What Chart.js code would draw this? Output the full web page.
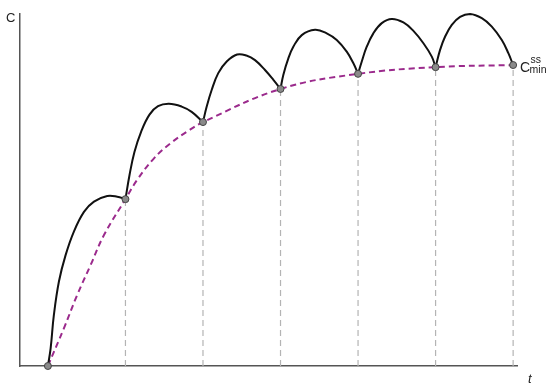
<!DOCTYPE html>
<html>
<head>
<meta charset="utf-8">
<script src="https://cdn.jsdelivr.net/npm/chart.js@4"></script>
<style>
  html, body { margin: 0; padding: 0; background: #fff; }
</style>
</head>
<body>
<canvas id="chart" width="550" height="389"></canvas>
<script>
// dosing times (one interval = 1) and trough levels
const doseTimes = [0, 1, 2, 3, 4, 5, 6];
const troughLevels = [0, 47.4, 69.3, 78.7, 83.0, 84.9, 85.5];

// black concentration curve, one hump per dosing interval [t, C]
const hump1 = [[0, 0], [0.035, 5.0], [0.077, 14.5], [0.142, 24.0], [0.228, 31.5], [0.335, 38.2], [0.465, 43.8], [0.594, 46.7], [0.765, 48.3], [0.894, 48.1], [1, 47.4]];
const hump2 = [[1, 47.4], [1.052, 54.2], [1.116, 60.8], [1.203, 66.6], [1.31, 71.4], [1.42, 73.8], [1.56, 74.5], [1.725, 73.7], [1.854, 72.2], [2, 69.3]];
const hump3 = [[2, 69.3], [2.048, 73.7], [2.112, 78.4], [2.197, 83.2], [2.306, 86.5], [2.44, 88.5], [2.56, 88.2], [2.671, 86.9], [2.8, 84.1], [2.908, 81.3], [3, 78.7]];
const hump4 = [[3, 78.7], [3.036, 82.7], [3.101, 87.4], [3.165, 90.7], [3.274, 94.0], [3.445, 95.5], [3.596, 94.5], [3.725, 92.6], [3.854, 89.3], [3.94, 86.0], [4, 83.0]];
const hump5 = [[4, 83.0], [4.048, 86.5], [4.112, 90.7], [4.197, 94.5], [4.306, 97.4], [4.435, 98.6], [4.585, 97.6], [4.714, 95.2], [4.843, 91.7], [4.951, 87.9], [5, 84.9]];
const hump6 = [[5, 84.9], [5.058, 89.8], [5.123, 93.6], [5.209, 96.9], [5.316, 99.2], [5.445, 100], [5.596, 98.8], [5.725, 96.4], [5.854, 92.6], [5.94, 88.8], [6, 85.5]];

// purple dashed trough envelope, extra points between troughs
const envT = [0, 0.206, 0.378, 0.551, 0.723, 1, 1.152, 1.368, 1.583, 1.797, 2, 3, 4, 5, 6];
const envC = [0, 10.7, 20.2, 28.7, 37.2, 47.4, 52.9, 59.0, 63.3, 66.6, 69.3, 78.7, 83.0, 84.9, 85.5];

const toXY = arr => arr.map(p => ({ x: p[0], y: p[1] }));

const datasets = [];

// grey dashed drop lines from each trough (not the first)
doseTimes.forEach((t, i) => {
  if (i === 0) return;
  datasets.push({
    data: [{ x: t, y: 0 }, { x: t, y: troughLevels[i] }],
    borderColor: '#b4b4b4',
    borderWidth: 1.2,
    borderDash: [6, 4],
    pointRadius: 0,
    order: 4
  });
});

datasets.push({
  data: envT.map((t, i) => ({ x: t, y: envC[i] })),
  borderColor: '#9b2a8c',
  borderWidth: 2,
  borderDash: [6, 4],
  pointRadius: 0,
  tension: 0.4,
  order: 3
});

[hump1, hump2, hump3, hump4, hump5, hump6].forEach(h => {
  datasets.push({
    data: toXY(h),
    borderColor: '#111',
    borderWidth: 2,
    pointRadius: 0,
    tension: 0.4,
    clip: false,
    order: 2
  });
});

// trough markers
datasets.push({
  data: doseTimes.map((t, i) => ({ x: t, y: troughLevels[i] })),
  showLine: false,
  pointRadius: 3.5,
  pointBackgroundColor: '#8a8a8a',
  pointBorderColor: '#444',
  pointBorderWidth: 1,
  clip: false,
  order: 1
});

const labelsPlugin = {
  id: 'labels',
  afterDraw(chart) {
    const ctx = chart.ctx;
    const xs = chart.scales.x, ys = chart.scales.y;
    const area = chart.chartArea;
    ctx.save();
    ctx.fillStyle = '#222';
    ctx.textBaseline = 'alphabetic';
    ctx.font = '13px "Liberation Sans", Arial, sans-serif';
    ctx.fillText('C', 6, 22);
    ctx.font = 'italic 13px "Liberation Sans", Arial, sans-serif';
    ctx.fillText('t', area.right + 11, area.bottom + 17);

    // C_min^ss next to the last trough
    const last = doseTimes.length - 1;
    const px = xs.getPixelForValue(doseTimes[last]);
    const py = ys.getPixelForValue(troughLevels[last]);
    ctx.font = '14px "Liberation Sans", Arial, sans-serif';
    ctx.fillText('C', px + 7, py + 7);
    ctx.font = '10.5px "Liberation Sans", Arial, sans-serif';
    ctx.fillText('ss', px + 17.5, py - 2);
    ctx.fillText('min', px + 16.5, py + 8);
    ctx.restore();
  }
};

new Chart(document.getElementById('chart'), {
  type: 'line',
  data: { datasets: datasets },
  options: {
    responsive: false,
    animation: false,
    devicePixelRatio: 1,
    layout: { padding: { left: 20, top: 14, right: 33, bottom: 23 } },
    plugins: { legend: { display: false }, tooltip: { enabled: false } },
    scales: {
      x: {
        type: 'linear', min: -0.36, max: 6.05,
        grid: { display: false, drawTicks: false },
        ticks: { display: false },
        border: { color: '#555', width: 1.5 }
      },
      y: {
        type: 'linear', min: 0, max: 100,
        grid: { display: false, drawTicks: false },
        ticks: { display: false },
        border: { color: '#555', width: 1.5 }
      }
    }
  },
  plugins: [labelsPlugin]
});
</script>
</body>
</html>
